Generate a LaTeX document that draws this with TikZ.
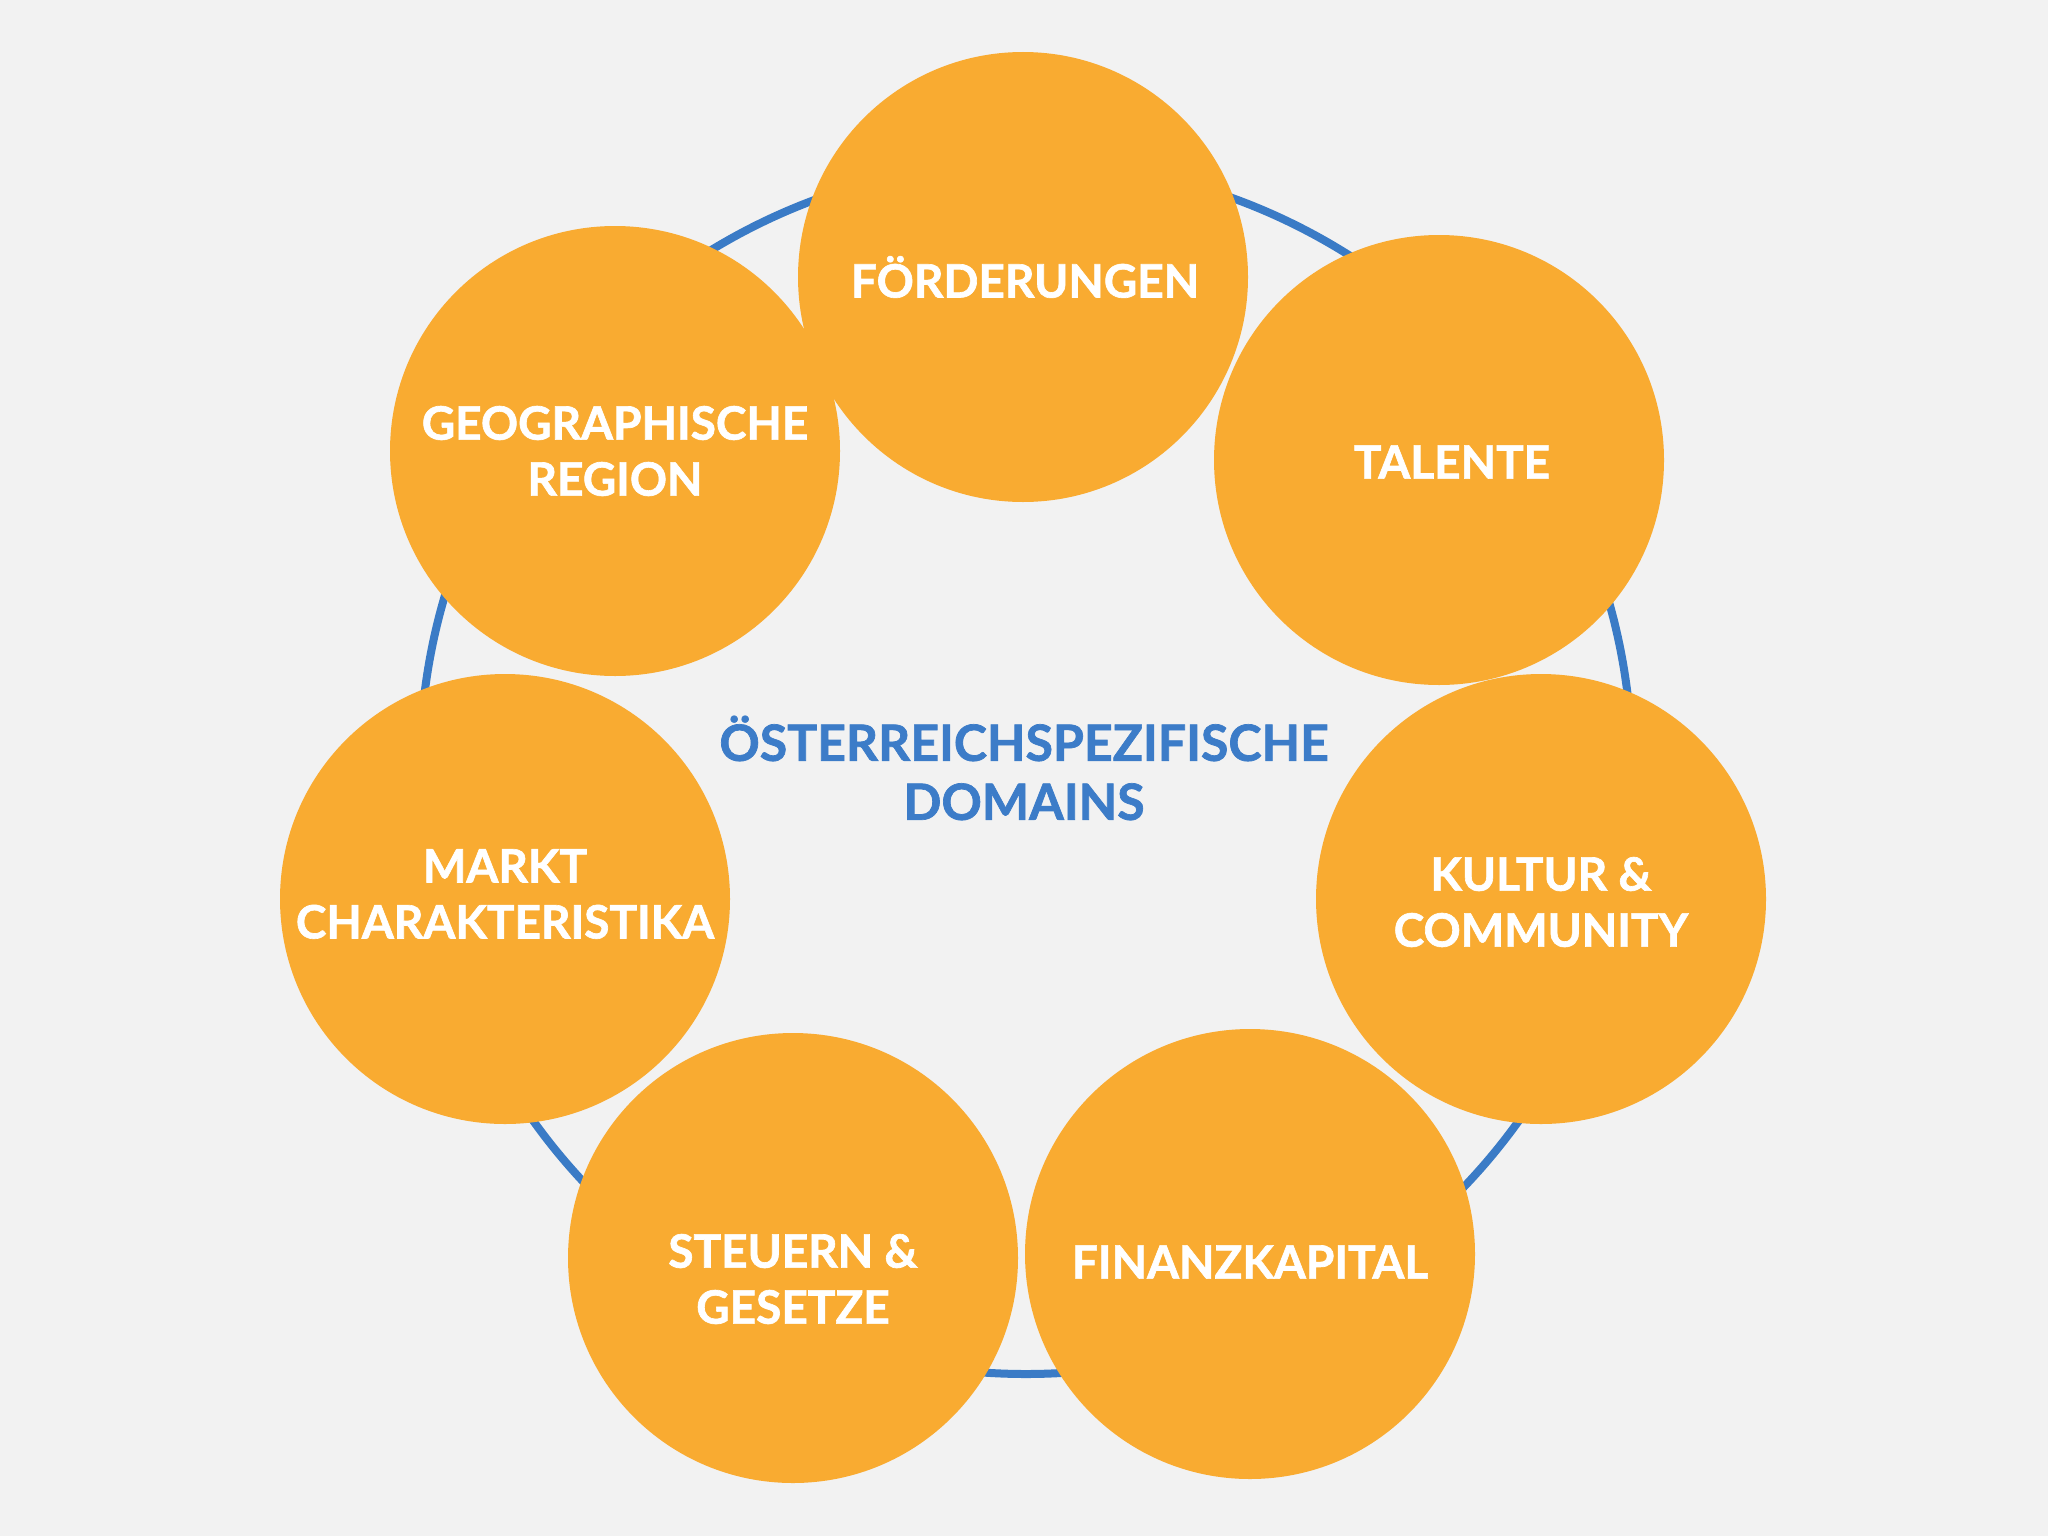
\documentclass[tikz,border=0pt]{standalone}
\usepackage{fontspec}
\setmainfont{Lato}[BoldFeatures={FakeBold=1.4}]
\definecolor{bg}{HTML}{F2F2F2}
\definecolor{orng}{HTML}{F9AB31}
\definecolor{ringblue}{HTML}{3A7BC6}
\definecolor{txtblue}{HTML}{3C7CC8}
\begin{document}
\begin{tikzpicture}[x=0.5pt,y=-0.5pt,
  bubble/.style={circle,fill=orng,draw=none,minimum size=225pt,inner sep=0pt},
  btext/.style={text=white,font=\bfseries\fontsize{23}{28}\selectfont,align=center,inner sep=0pt},
  ctext/.style={text=txtblue,font=\bfseries\fontsize{25}{29.5}\selectfont,align=center,inner sep=0pt}]
\fill[bg] (0,0) rectangle (2048,1536);
\useasboundingbox (0,0) rectangle (2048,1536);
\coordinate (rc) at (1026,768);
\draw[ringblue,line width=4pt] (rc) circle[radius=303pt];
\node[bubble] (geo) at (615,451) {};
\node[bubble] (foer) at (1023,277) {};
\node[bubble] (tal) at (1439,460) {};
\node[bubble] (kul) at (1541,899) {};
\node[bubble] (fin) at (1250,1254) {};
\node[bubble] (steu) at (793,1258) {};
\node[bubble] (markt) at (505,899) {};
\node[btext] (tfoer) at (1025,277) {FÖRDERUNGEN};
\node[btext] (tgeo) at (615,451) {GEOGRAPHISCHE\\REGION};
\node[btext] (ttal) at (1452,462) {TALENTE};
\node[btext] (tkul) at (1541,902) {KULTUR \&\\COMMUNITY};
\node[btext] (tfin) at (1250,1262) {FINANZKAPITAL};
\node[btext] (tsteu) at (793,1279) {STEUERN \&\\GESETZE};
\node[btext] (tmarkt) at (505,894) {MARKT\\CHARAKTERISTIKA};
\node[ctext] (center) at (1024,768) {ÖSTERREICHSPEZIFISCHE\\DOMAINS};
\end{tikzpicture}
\end{document}
